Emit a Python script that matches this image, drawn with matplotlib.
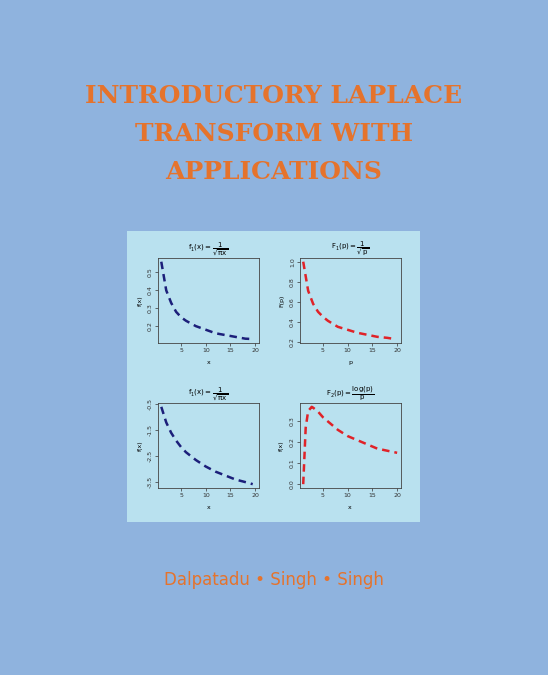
import matplotlib.pyplot as plt

plt.rcParams['axes.unicode_minus'] = False

# values
x1 = [1, 2, 3, 4, 5, 6, 8, 10, 12, 14, 16, 18, 19.5]
f1 = [0.56, 0.40, 0.33, 0.28, 0.25, 0.23, 0.20, 0.18, 0.16, 0.15, 0.14, 0.13, 0.128]
F1 = [1.0, 0.71, 0.58, 0.50, 0.45, 0.41, 0.35, 0.32, 0.29, 0.27, 0.25, 0.24, 0.228]
f3 = [-0.6, -1.2, -1.6, -1.9, -2.15, -2.35, -2.65, -2.9, -3.1, -3.25, -3.4, -3.5, -3.58]
p4 = [1, 1.5, 2, 2.72, 3, 4, 5, 6, 8, 10, 12, 14, 16, 18, 20]
F2 = [0, 0.27, 0.35, 0.37, 0.366, 0.347, 0.32, 0.30, 0.26, 0.23, 0.21, 0.19, 0.17, 0.16, 0.15]

bg = '#8fb3de'
panel_bg = '#b9e1ef'
orange = '#e5732c'
fig = plt.figure(figsize=(5.48, 6.75), dpi=100, facecolor=bg)

for i, line in enumerate(['INTRODUCTORY LAPLACE', 'TRANSFORM WITH', 'APPLICATIONS']):
    fig.text(0.5, 1 - (96 + 38 * i) / 675, line, ha='center', va='center',
             fontsize=18, fontweight='heavy', family='DejaVu Serif', color=orange)

# light blue block behind the four plots
back = fig.add_axes([127 / 548, 1 - 522 / 675, 293 / 548, 291 / 675], zorder=-1)
back.set_facecolor(panel_bg)
back.set_xticks([])
back.set_yticks([])
for s in back.spines.values():
    s.set_visible(False)

fig.text(0.5, 1 - 580 / 675, 'Dalpatadu \u2022 Singh \u2022 Singh', ha='center',
         va='center', fontsize=12, color=orange)

panels = [
    (0.288, 0.492, x1, f1, '#1c1f7a', r'$\mathrm{f_1(x)=\dfrac{1}{\sqrt{\pi x}}}$', 'x', 'f(x)', [0.2, 0.3, 0.4, 0.5]),
    (0.547, 0.492, x1, F1, '#e02228', r'$\mathrm{F_1(p)=\dfrac{1}{\sqrt{p}}}$', 'p', 'F(p)', [0.2, 0.4, 0.6, 0.8, 1.0]),
    (0.288, 0.277, x1, f3, '#1c1f7a', r'$\mathrm{f_1(x)=\dfrac{1}{\sqrt{\pi x}}}$', 'x', 'f(x)', [-3.5, -2.5, -1.5, -0.5]),
    (0.547, 0.277, p4, F2, '#e02228', r'$\mathrm{F_2(p)=\dfrac{log(p)}{p}}$', 'x', 'f(x)', [0.0, 0.1, 0.2, 0.3]),
]
for left, bottom, xs, ys, c, title, xl, yl, yt in panels:
    ax = fig.add_axes([left, bottom, 0.184, 0.126])
    ax.set_facecolor(panel_bg)
    ax.plot(xs, ys, color=c, lw=1.8, ls=(0, (3, 2)))
    ax.set_xticks([5, 10, 15, 20])
    ax.set_yticks(yt)
    ax.set_xlim(0.3, 20.7)
    ax.tick_params(labelsize=4.5, length=2, width=0.5, pad=1.5, colors='#333333')
    for lab in ax.get_yticklabels():
        lab.set_rotation(90)
        lab.set_va('center')
    for s in ax.spines.values():
        s.set_linewidth(0.6)
        s.set_color('#444444')
    ax.set_title(title, fontsize=5, pad=2)
    ax.set_xlabel(xl, fontsize=4.5, labelpad=5)
    ax.set_ylabel(yl, fontsize=4.5, labelpad=4)

fig.savefig('out.png', dpi=100, facecolor=bg)
